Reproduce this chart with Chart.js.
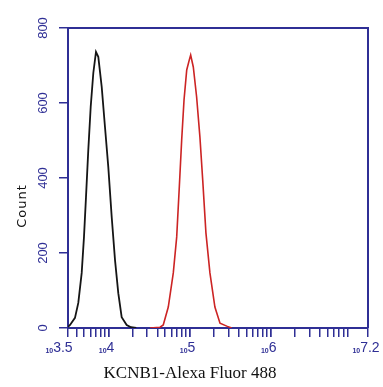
<!DOCTYPE html>
<html>
<head>
<meta charset="utf-8">
<script src="https://cdn.jsdelivr.net/npm/chart.js@4"></script>
<style>
  html, body { margin: 0; padding: 0; background: #fff; }
  canvas { display: block; }
</style>
</head>
<body>
<canvas id="histChart" width="383" height="387"></canvas>
<script>
// isotype control (black) and KCNB1 stained cells (red)
const controlFluor = [3162, 3350, 3855, 4236, 4667, 4980, 5272, 5628, 6026, 6490, 7000, 7476, 8237, 9040, 9932, 10940, 12020, 13190, 14520, 16740, 18920, 22000];
const controlCount = [3, 8, 27, 67, 147, 243, 349, 475, 590, 680, 736, 723, 643, 536, 429, 296, 181, 93, 29, 8, 2, 0];
const stainedFluor = [32400, 43200, 47300, 54550, 62900, 69300, 74600, 79800, 85300, 92100, 99100, 103000, 111000, 122000, 134000, 145000, 159000, 178000, 205000, 237000, 287000, 330000];
const stainedCount = [0, 2, 8, 56, 147, 243, 376, 501, 608, 688, 715, 728, 696, 616, 509, 395, 253, 147, 56, 13, 5, 0];

const xMajorExps = [3.5, 4, 5, 6, 7.2];
const yTickValues = [0, 200, 400, 600, 800];
const xTitle = 'KCNB1-Alexa Fluor 488';
const yTitle = 'Count';

const navy = '#2f2f95';

function toPoints(xs, ys) {
  return xs.map((x, i) => ({ x, y: ys[i] }));
}

// every minor tick 2..9 of each decade inside the range, plus the labelled ones
function xTickValues() {
  const vals = xMajorExps.map(e => Math.pow(10, e));
  for (let d = 3; d <= 6; d++) {
    for (let m = 1; m <= 9; m++) {
      const v = m * Math.pow(10, d);
      if (v > Math.pow(10, 3.5) && v < Math.pow(10, 7.2)) vals.push(v);
    }
  }
  return vals.sort((a, b) => a - b);
}

const labelPlugin = {
  id: 'labels',
  afterDraw(chart) {
    const { ctx, chartArea } = chart;
    const xs = chart.scales.x, ys = chart.scales.y;
    ctx.save();
    // frame top and right
    ctx.strokeStyle = navy;
    ctx.lineWidth = 2;
    ctx.beginPath();
    ctx.moveTo(chartArea.left, chartArea.top);
    ctx.lineTo(chartArea.right, chartArea.top);
    ctx.lineTo(chartArea.right, chartArea.bottom);
    ctx.stroke();

    // y tick labels, rotated
    ctx.fillStyle = navy;
    ctx.font = '13px "Liberation Sans", Arial, sans-serif';
    ctx.textAlign = 'center';
    ctx.textBaseline = 'middle';
    yTickValues.forEach(v => {
      ctx.save();
      ctx.translate(43, ys.getPixelForValue(v));
      ctx.rotate(-Math.PI / 2);
      ctx.fillText(String(v), 0, 0);
      ctx.restore();
    });

    // x tick labels as small 10 plus exponent
    xMajorExps.forEach(e => {
      const px = xs.getPixelForValue(Math.pow(10, e));
      const expText = String(e);
      ctx.font = 'bold 7px "Liberation Sans", Arial, sans-serif';
      const wBase = ctx.measureText('10').width;
      ctx.font = '14px "Liberation Sans", Arial, sans-serif';
      const wExp = ctx.measureText(expText).width;
      let left = px - (wBase + wExp) / 2 - 2;
      if (e === 3.5) left -= 7;
      ctx.textAlign = 'left';
      ctx.textBaseline = 'alphabetic';
      ctx.font = 'bold 7px "Liberation Sans", Arial, sans-serif';
      ctx.fillText('10', left, 353);
      ctx.font = '14px "Liberation Sans", Arial, sans-serif';
      ctx.fillText(expText, left + wBase, 352);
    });

    // axis titles
    ctx.fillStyle = '#111';
    ctx.font = '13px "DejaVu Sans", sans-serif';
    ctx.letterSpacing = '1px';
    ctx.textAlign = 'center';
    ctx.textBaseline = 'middle';
    ctx.save();
    ctx.translate(23, 206);
    ctx.rotate(-Math.PI / 2);
    ctx.fillText(yTitle, 0, 0);
    ctx.restore();

    ctx.letterSpacing = '0px';
    ctx.font = '17px "Liberation Serif", "Times New Roman", serif';
    ctx.textBaseline = 'alphabetic';
    ctx.fillText(xTitle, 190, 378);
    ctx.restore();
  }
};

new Chart(document.getElementById('histChart'), {
  type: 'line',
  data: {
    datasets: [
      { data: toPoints(controlFluor, controlCount), borderColor: '#151515', borderWidth: 1.8, pointRadius: 0, tension: 0, fill: false },
      { data: toPoints(stainedFluor, stainedCount), borderColor: '#cc2424', borderWidth: 1.6, pointRadius: 0, tension: 0, fill: false }
    ]
  },
  options: {
    responsive: false,
    animation: false,
    devicePixelRatio: 1,
    layout: { padding: { top: 28, right: 15, left: 0, bottom: 0 } },
    plugins: { legend: { display: false }, tooltip: { enabled: false } },
    scales: {
      x: {
        type: 'logarithmic',
        min: Math.pow(10, 3.5),
        max: Math.pow(10, 7.2),
        afterBuildTicks: (scale) => { scale.ticks = xTickValues().map(v => ({ value: v })); },
        afterFit: (scale) => { scale.height = 59; },
        ticks: { display: false },
        grid: { drawOnChartArea: false, drawTicks: true, tickLength: 9, color: navy, lineWidth: 1.5 },
        border: { color: navy, width: 2 }
      },
      y: {
        type: 'linear',
        min: 0,
        max: 800,
        afterBuildTicks: (scale) => { scale.ticks = yTickValues.map(v => ({ value: v })); },
        afterFit: (scale) => { scale.width = 68; },
        ticks: { display: false },
        grid: { drawOnChartArea: false, drawTicks: true, tickLength: 9, color: navy, lineWidth: 1.5 },
        border: { color: navy, width: 2 }
      }
    }
  },
  plugins: [labelPlugin]
});
</script>
</body>
</html>
